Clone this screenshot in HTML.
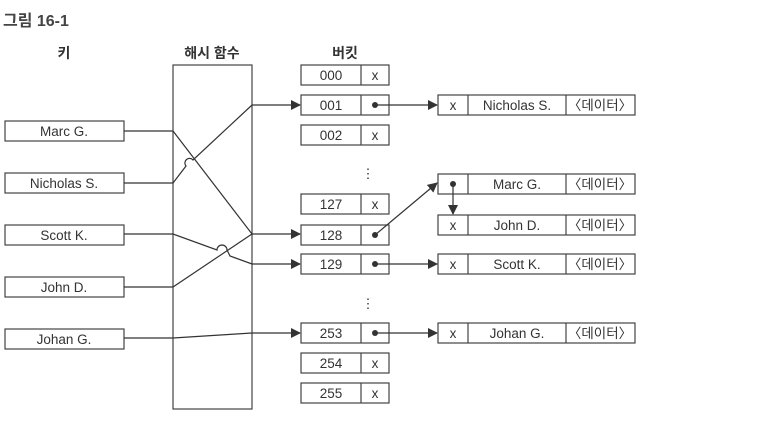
<!DOCTYPE html>
<html><head><meta charset="utf-8"><style>
body{margin:0;background:#fff}
svg text{font-family:"Liberation Sans","Noto Sans CJK KR",sans-serif;fill:#333}
</style></head><body>
<svg width="760" height="416" viewBox="0 0 760 416" xmlns="http://www.w3.org/2000/svg">
<defs><marker id="a" markerWidth="10" markerHeight="10" refX="9" refY="5" orient="auto" markerUnits="userSpaceOnUse"><path d="M0,0 L10,5 L0,10z" fill="#333"/></marker></defs>
<g font-size="16" font-weight="bold"><text x="3" y="26" style="fill:#444">그림 16-1</text></g>
<g font-size="14" font-weight="bold" text-anchor="middle"><text x="64" y="58">키</text><text x="212" y="58">해시 함수</text><text x="345" y="58">버킷</text></g>
<g stroke="#444" stroke-width="1.2" fill="none">
<rect x="173" y="65" width="79" height="344"/>
<rect x="5" y="121" width="119" height="20"/><rect x="5" y="173" width="119" height="20"/><rect x="5" y="225" width="119" height="20"/><rect x="5" y="277" width="119" height="20"/><rect x="5" y="329" width="119" height="20"/>
</g>
<g font-size="13.5" text-anchor="middle"><text x="64" y="136">Marc G.</text><text x="64" y="188">Nicholas S.</text><text x="64" y="240">Scott K.</text><text x="64" y="292">John D.</text><text x="64" y="344">Johan G.</text></g>
<g stroke="#444" stroke-width="1.2" fill="none">
<g id="b">
<rect x="301" y="65" width="88" height="20"/><line x1="361" y1="65" x2="361" y2="85"/>
</g>
<use href="#b" y="30"/><use href="#b" y="60"/><use href="#b" y="129"/><use href="#b" y="160"/><use href="#b" y="189"/><use href="#b" y="258"/><use href="#b" y="288"/><use href="#b" y="318"/>
<g id="c"><rect x="438" y="95" width="197" height="20"/><line x1="468" y1="95" x2="468" y2="115"/><line x1="566" y1="95" x2="566" y2="115"/></g>
<use href="#c" y="79"/><use href="#c" y="120"/><use href="#c" y="159"/><use href="#c" y="228"/>
</g>
<g font-size="13.5" text-anchor="middle">
<text x="331" y="80">000</text><text x="331" y="110">001</text><text x="331" y="140">002</text><text x="331" y="209">127</text><text x="331" y="240">128</text><text x="331" y="269">129</text><text x="331" y="338">253</text><text x="331" y="368">254</text><text x="331" y="398">255</text>
<text x="375" y="80">x</text><text x="375" y="140">x</text><text x="375" y="209">x</text><text x="375" y="368">x</text><text x="375" y="398">x</text>
<text x="453" y="110">x</text><text x="453" y="230">x</text><text x="453" y="269">x</text><text x="453" y="338">x</text>
<text x="517" y="110">Nicholas S.</text><text x="517" y="189">Marc G.</text><text x="517" y="230">John D.</text><text x="517" y="269">Scott K.</text><text x="517" y="338">Johan G.</text>
<text x="600" y="110">〈데이터〉</text><text x="600" y="189">〈데이터〉</text><text x="600" y="230">〈데이터〉</text><text x="600" y="269">〈데이터〉</text><text x="600" y="338">〈데이터〉</text>
<text x="368" y="178">⋮</text><text x="368" y="308">⋮</text>
</g>
<g fill="#333"><circle cx="375" cy="105" r="3"/><circle cx="375" cy="235" r="3"/><circle cx="375" cy="264" r="3"/><circle cx="375" cy="333" r="3"/><circle cx="453" cy="184" r="3"/></g>
<g stroke="#333" stroke-width="1.2" fill="none">
<path d="M124,131 H173 L252,234"/>
<path d="M124,183 H173 L186,166 a4,4 0 0 1 7,-6 L252,105 H300" marker-end="url(#a)"/>
<path d="M124,234 H173 L217,250 a5,5 0 0 1 10,0 L230,256 L252,264 H300" marker-end="url(#a)"/>
<path d="M124,287 H173 L252,234 H300" marker-end="url(#a)"/>
<path d="M124,338 H173 L252,333 H300" marker-end="url(#a)"/>
<path d="M375,105 H437" marker-end="url(#a)"/>
<path d="M375,235 L437,183" marker-end="url(#a)"/>
<path d="M375,264 H437" marker-end="url(#a)"/>
<path d="M375,333 H437" marker-end="url(#a)"/>
<path d="M453,184 V214" marker-end="url(#a)"/>
</g>
</svg>
</body></html>
